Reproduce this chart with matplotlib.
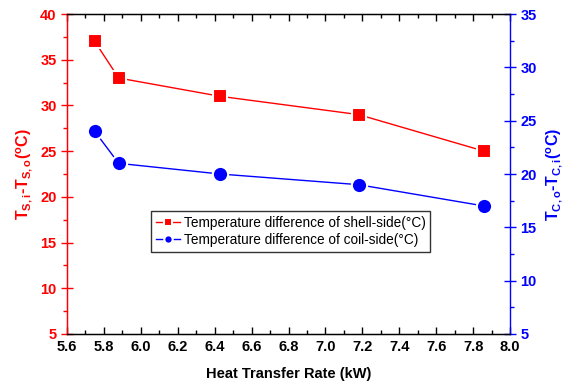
import matplotlib
matplotlib.use('Agg')
import matplotlib.pyplot as plt
from matplotlib.ticker import MultipleLocator

plt.rcParams['font.family'] = 'Liberation Sans'
plt.rcParams['mathtext.fontset'] = 'custom'
plt.rcParams['mathtext.rm'] = 'Liberation Sans:bold'
plt.rcParams['mathtext.bf'] = 'Liberation Sans:bold'
plt.rcParams['mathtext.it'] = 'Liberation Sans:bold'

# data
heatRate = [5.75, 5.88, 6.43, 7.18, 7.86]
shellDiff = [37, 33, 31, 29, 25]
coilDiff = [24, 21, 20, 19, 17]

red = '#ff0000'
blue = '#0000ff'

fig = plt.figure(figsize=(5.69, 3.9), dpi=100)
ax = fig.add_axes([0.1178, 0.1436, 0.7785, 0.8204])
ax2 = ax.twinx()

l1, = ax.plot(heatRate, shellDiff, color=red, lw=1, marker='s', ms=10,
              mfc=red, mec='white', mew=1.5,
              label='Temperature difference of shell-side(°C)')
l2, = ax2.plot(heatRate, coilDiff, color=blue, lw=1, marker='o', ms=11,
               mfc=blue, mec='white', mew=1.5,
               label='Temperature difference of coil-side(°C)')

ax.set_xlim(5.6, 8.0)
ax.set_ylim(5, 40)
ax2.set_ylim(5, 35)

ax.xaxis.set_major_locator(MultipleLocator(0.2))
ax.xaxis.set_minor_locator(MultipleLocator(0.1))
ax.yaxis.set_major_locator(MultipleLocator(5))
ax.yaxis.set_minor_locator(MultipleLocator(2.5))
ax2.yaxis.set_major_locator(MultipleLocator(5))
ax2.yaxis.set_minor_locator(MultipleLocator(2.5))

ax.tick_params(axis='x', which='both', direction='in', top=True, width=1)
ax.tick_params(axis='x', which='major', length=5, labelsize=10.5, pad=4)
ax.tick_params(axis='x', which='minor', length=3)
ax.tick_params(axis='y', which='major', direction='inout', length=8, width=1,
               colors=red, labelsize=10.5)
ax.tick_params(axis='y', which='minor', direction='out', length=3, width=1, colors=red)
ax2.tick_params(axis='y', which='major', direction='inout', length=8, width=1,
                colors=blue, labelsize=10.5)
ax2.tick_params(axis='y', which='minor', direction='out', length=3, width=1, colors=blue)

for lab in ax.get_xticklabels() + ax.get_yticklabels() + ax2.get_yticklabels():
    lab.set_fontweight('bold')

ax.spines['left'].set_color(red)
ax2.spines['left'].set_color(red)
ax2.spines['right'].set_color(blue)
ax.spines['right'].set_visible(False)
for sp in ax2.spines.values():
    sp.set_linewidth(1)

ax.set_xlabel('Heat Transfer Rate (kW)', fontsize=10.5, fontweight='bold', labelpad=10)
ax.set_ylabel(r'$\mathregular{T_{S,i}}$-$\mathregular{T_{S,o}(^oC)}$', color=red,
              fontsize=11.5, fontweight='bold', labelpad=4)
ax2.set_ylabel(r'$\mathregular{T_{C,o}}$-$\mathregular{T_{C,i}(^oC)}$', color=blue,
               fontsize=11.5, fontweight='bold', labelpad=6)

leg = ax2.legend(handles=[l1, l2], loc='upper left', bbox_to_anchor=(0.19, 0.385),
                 fontsize=9.8, frameon=True, fancybox=False, handlelength=1.8,
                 handletextpad=0.25, borderpad=0.35, labelspacing=0.25,
                 borderaxespad=0, markerscale=0.55)
leg.get_frame().set_edgecolor('black')
leg.get_frame().set_linewidth(1)

fig.savefig('out.png', dpi=100)
